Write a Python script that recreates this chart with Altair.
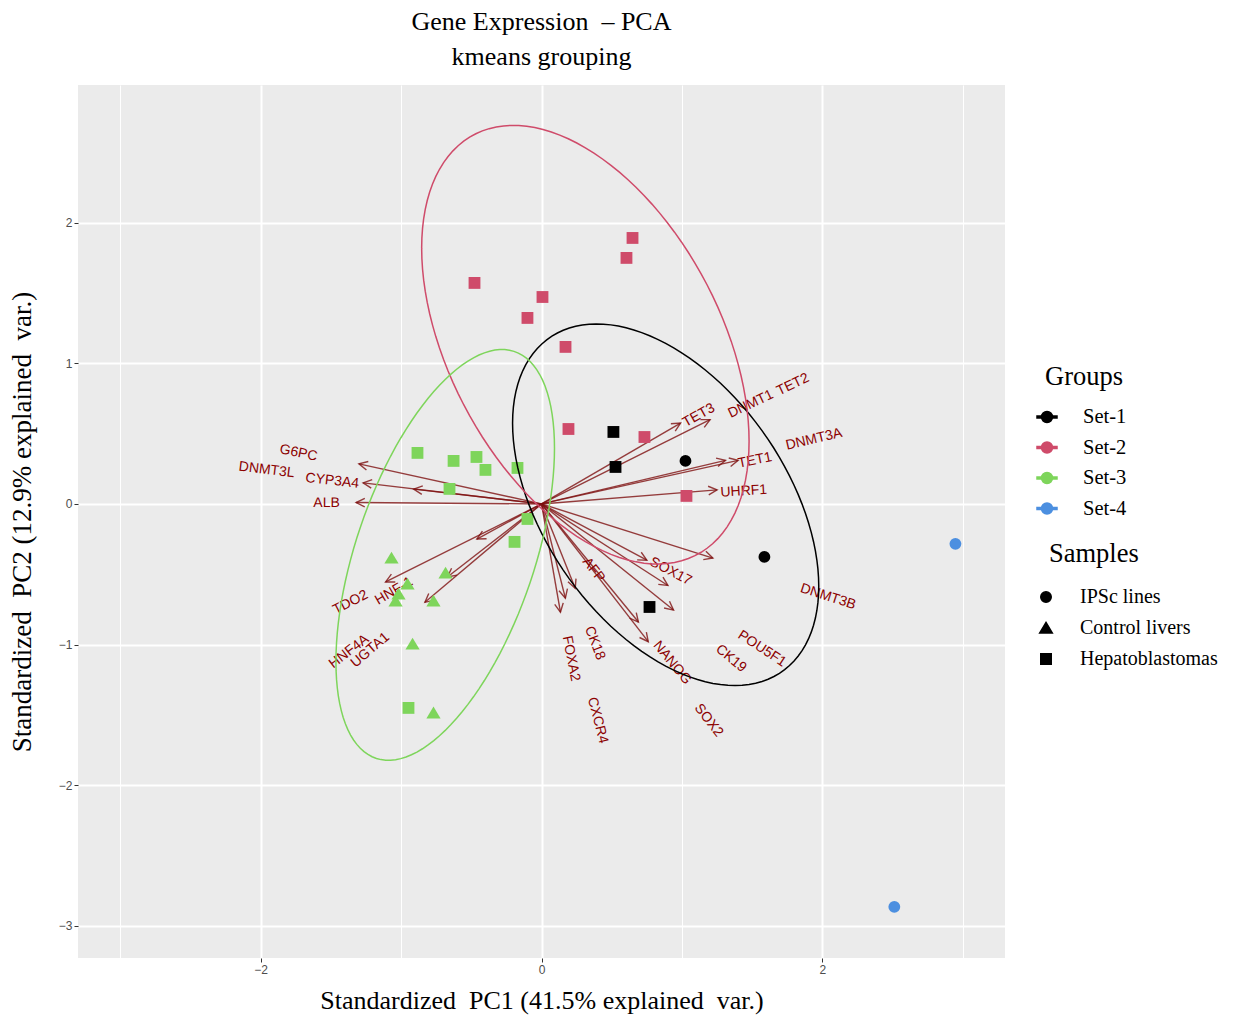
import altair as alt
import pandas as pd
import numpy as np

GROUPS = ["Set-1", "Set-2", "Set-3", "Set-4"]
GROUP_COLORS = ["#000000", "#CF4B6A", "#7ED55B", "#4C8FE0"]
SAMPLES = ["IPSc lines", "Control livers", "Hepatoblastomas"]
SAMPLE_SHAPES = ["circle", "M0,-1.05L1.2,0.95L-1.2,0.95Z", "square"]

# ---- sample scores (standardized PC1 / PC2) per k-means group ----
set1_pc1 = [0.512, 0.527, 0.769, 1.025, 1.587]
set1_pc2 = [0.512, 0.263, -0.733, 0.306, -0.377]
set1_type = ["Hepatoblastomas", "Hepatoblastomas", "Hepatoblastomas", "IPSc lines", "IPSc lines"]

set2_pc1 = [0.648, 0.605, -0.477, 0.007, -0.100, 0.171, 0.192, 0.733, 1.032]
set2_pc2 = [1.892, 1.750, 1.572, 1.472, 1.323, 1.117, 0.533, 0.476, 0.057]
set2_type = ["Hepatoblastomas"] * 9

set3_pc1 = [-0.883, -0.626, -0.463, -0.399, -0.171, -0.655, -0.100, -0.192, -0.947,
            -1.068, -0.683, -0.954, -1.018, -1.039, -0.769, -0.918, -0.769]
set3_pc2 = [0.363, 0.306, 0.334, 0.242, 0.256, 0.107, -0.107, -0.270, -1.451,
            -0.384, -0.491, -0.569, -0.640, -0.690, -0.690, -0.996, -1.486]
set3_type = ["Hepatoblastomas"] * 9 + ["Control livers"] * 8

set4_pc1 = [2.947, 2.512]
set4_pc2 = [-0.284, -2.866]
set4_type = ["IPSc lines", "IPSc lines"]

# ---- variable loading arrows (tips) ----
arrow_pc1 = [-1.30, -1.27, -0.91, -1.32, -0.46, -1.11, -0.67, -0.83,
             0.99, 1.20, 1.31, 1.40, 1.25, 1.22, 0.75, 0.90, 0.94, 0.69, 0.76, 0.135, 0.17, 0.24]
arrow_pc2 = [0.285, 0.15, 0.105, 0.01, -0.25, -0.555, -0.52, -0.70,
             0.575, 0.60, 0.31, 0.31, 0.10, -0.385, -0.40, -0.58, -0.755, -0.84, -0.98, -0.77, -0.67, -0.60]

# ---- variable names ----
genes = ["G6PC", "DNMT3L", "CYP3A4", "ALB", "TDO2", "HNF-1", "HNF4A", "UGTA1",
         "TET3", "DNMT1", "TET2", "DNMT3A", "TET1", "UHRF1", "SOX17", "AFP",
         "DNMT3B", "POU5F1", "CK19", "NANOG", "SOX2", "CK18", "FOXA2", "CXCR4"]
gene_pc1 = [-1.73, -1.957, -1.49, -1.53, -1.36, -1.05, -1.37, -1.22,
            1.12, 1.49, 1.79, 1.94, 1.52, 1.44, 0.92, 0.37,
            2.04, 1.57, 1.35, 0.93, 1.19, 0.38, 0.21, 0.40]
gene_pc2 = [0.363, 0.242, 0.164, 0.007, -0.70, -0.62, -1.05, -1.04,
            0.63, 0.71, 0.85, 0.46, 0.31, 0.09, -0.48, -0.47,
            -0.66, -1.03, -1.10, -1.13, -1.54, -0.99, -1.10, -1.54]

ELLIPSE_PROB = 0.95

# ---------------------------------------------------------------
sets = [("Set-1", set1_pc1, set1_pc2, set1_type),
        ("Set-2", set2_pc1, set2_pc2, set2_type),
        ("Set-3", set3_pc1, set3_pc2, set3_type),
        ("Set-4", set4_pc1, set4_pc2, set4_type)]

pts = pd.concat([pd.DataFrame({"pc1": x, "pc2": y, "group": g, "sample": s})
                 for g, x, y, s in sets], ignore_index=True)

# normal-probability ellipses per group (as ggbiplot does)
ell_frames = []
theta = np.linspace(-np.pi, np.pi, 121)
circle = np.column_stack([np.cos(theta), np.sin(theta)])
ed = np.sqrt(-2 * np.log(1 - ELLIPSE_PROB))
for g, x, y, s in sets:
    if len(x) < 3:
        continue
    X = np.column_stack([x, y])
    mu = X.mean(axis=0)
    sigma = np.cov(X, rowvar=False)
    U = np.linalg.cholesky(sigma).T
    e = circle @ U * ed + mu
    ell_frames.append(pd.DataFrame({"pc1": e[:, 0], "pc2": e[:, 1], "group": g,
                                    "idx": np.arange(len(e))}))
ell = pd.concat(ell_frames, ignore_index=True)

arrows = pd.DataFrame({"ax": arrow_pc1, "ay": arrow_pc2})
arrows["ox"] = 0.0
arrows["oy"] = 0.0
labels = pd.DataFrame({"gene": genes, "lx": gene_pc1, "ly": gene_pc2})

XS = alt.Scale(domain=[-3.3, 3.3], nice=False, zero=False)
YS = alt.Scale(domain=[-3.23, 2.98], nice=False, zero=False)
XTITLE = "Standardized\u00a0 PC1 (41.5% explained\u00a0 var.)"
YTITLE = "Standardized\u00a0 PC2 (12.9% explained\u00a0 var.)"

XAXIS = alt.Axis(
    values=[-3, -2, -1, 0, 1, 2, 3], format="d",
    labelExpr="datum.value % 2 === 0 ? datum.label : ''",
    gridWidth={"condition": {"test": "datum.value % 2 === 0", "value": 2}, "value": 1},
    tickOpacity={"condition": {"test": "datum.value % 2 === 0", "value": 1}, "value": 0},
    titlePadding=12, titleFontSize=26,
)
YAXIS = alt.Axis(
    values=[-3, -2.5, -2, -1.5, -1, -0.5, 0, 0.5, 1, 1.5, 2, 2.5], format="d",
    labelExpr="datum.value % 1 === 0 ? datum.label : ''",
    gridWidth={"condition": {"test": "datum.value % 1 === 0", "value": 2}, "value": 1},
    tickOpacity={"condition": {"test": "datum.value % 1 === 0", "value": 1}, "value": 0},
    titlePadding=22,
)


def X(f):
    return alt.X(f + ":Q", scale=XS, axis=XAXIS, title=XTITLE)


def Y(f):
    return alt.Y(f + ":Q", scale=YS, axis=YAXIS, title=YTITLE)


DARKRED = "#8B0000"

arrow_lines = alt.Chart(arrows).mark_rule(color="#7E1010", strokeWidth=1.4, opacity=0.8).encode(
    x=X("ox"), y=Y("oy"), x2="ax:Q", y2="ay:Q")

arrow_heads = alt.Chart(arrows).transform_calculate(
    ang="(360 - atan2(datum.ay, datum.ax) * 180 / PI) % 360"
).mark_point(shape="M-1,-0.5L0,0L-1,0.5", filled=False, size=300, strokeWidth=1.4,
             color="#7E1010", opacity=0.8).encode(
    x=X("ax"), y=Y("ay"), angle=alt.Angle("ang:Q", scale=None))

label_text = alt.Chart(labels).transform_calculate(
    ang="(360 - atan(datum.ly / datum.lx) * 180 / PI) % 360"
).mark_text(font="Liberation Sans", fontSize=14, color=DARKRED, align="center",
            baseline="middle").encode(
    x=X("lx"), y=Y("ly"), text="gene:N", angle=alt.Angle("ang:Q", scale=None))

GROUP_SYMBOL = ("M-1,-0.09L1,-0.09L1,0.09L-1,0.09Z "
                "M0.55,0A0.55,0.55 0 1,1 -0.55,0A0.55,0.55 0 1,1 0.55,0Z")

points = alt.Chart(pts).mark_point(filled=True, opacity=1, size=140).encode(
    x=X("pc1"), y=Y("pc2"),
    color=alt.Color("group:N", scale=alt.Scale(domain=GROUPS, range=GROUP_COLORS),
                    legend=alt.Legend(title="Groups", orient="none", legendX=967, legendY=279,
                                      symbolType=GROUP_SYMBOL, symbolSize=400,
                                      symbolOffset=-9, labelOffset=25,
                                      rowPadding=8.5, titlePadding=15.5)),
    shape=alt.Shape("sample:N", scale=alt.Scale(domain=SAMPLES, range=SAMPLE_SHAPES),
                    legend=alt.Legend(title="Samples", orient="none", legendX=971, legendY=456,
                                      symbolSize=110, symbolFillColor="black",
                                      symbolStrokeColor="black", symbolOffset=-13,
                                      labelOffset=24, labelFontSize=20,
                                      rowPadding=11, titlePadding=19.5)),
)

ellipses = alt.Chart(ell).mark_line(strokeWidth=1.5).encode(
    x=X("pc1"), y=Y("pc2"),
    stroke=alt.Stroke("group:N", scale=alt.Scale(domain=GROUPS, range=GROUP_COLORS), legend=None),
    detail="group:N", order="idx:Q")

chart = alt.layer(arrow_lines, arrow_heads, label_text, points, ellipses).properties(
    width=927, height=873,
    background="white",
    autosize=alt.AutoSizeParams(type="none"),
    padding={"left": 70, "top": 77, "right": 224, "bottom": 57},
    title=alt.TitleParams(["Gene Expression\u00a0 – PCA", "kmeans grouping"],
                          font="Liberation Serif", fontSize=26, fontWeight="normal",
                          anchor="middle", frame="group", lineHeight=35, offset=15,
                          color="black"),
).configure_view(fill="#EBEBEB", stroke=None).configure_axis(
    domain=False, gridColor="white", tickColor="#333333", tickSize=4,
    labelFont="Liberation Sans", labelFontSize=12, labelColor="#4D4D4D",
    titleFont="Liberation Serif", titleFontSize=27, titleFontWeight="normal",
    titleColor="black",
).configure_legend(
    titleFont="Liberation Serif", titleFontSize=26.5, titleFontWeight="normal", titleColor="black",
    labelFont="Liberation Serif", labelFontSize=20.5, labelColor="black",
)

chart.save("out.html", embed_options={"renderer": "svg", "actions": False})
